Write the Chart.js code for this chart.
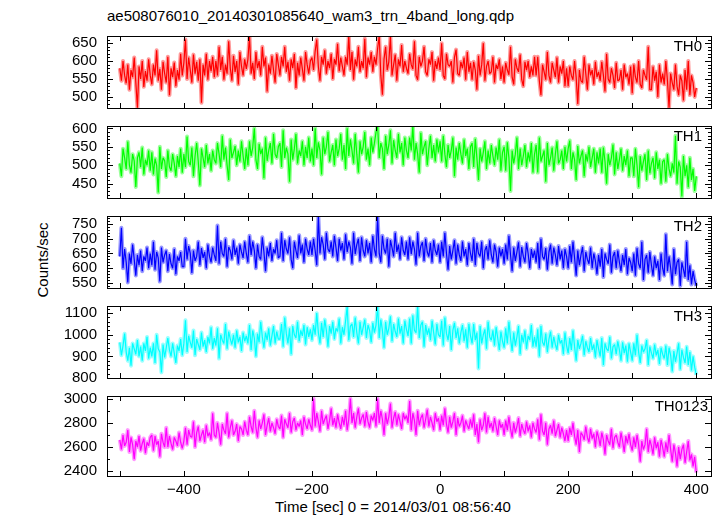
<!DOCTYPE html>
<html>
<head>
<meta charset="utf-8">
<script src="https://cdn.jsdelivr.net/npm/chart.js@4.4.1/dist/chart.umd.min.js"></script>
<style>
body { margin: 0; background: #fff; }
#wrap { position: relative; width: 723px; height: 516px; font-family: "Liberation Sans", Arial, sans-serif; color: #000; overflow: hidden; }
#wrap canvas { position: absolute; left: 0; }
.txt { position: absolute; font-size: 15px; line-height: 17px; white-space: nowrap; }
#ylab { left: 41.7px; top: 260px; transform: translate(-50%, -50%) rotate(-90deg); }
</style>
</head>
<body>
<div id="wrap">
  <div class="txt" style="left:107px; top:7px;">ae508076010_20140301085640_wam3_trn_4band_long.qdp</div>
  <div class="txt" id="ylab">Counts/sec</div>
  <div class="txt" style="left:275px; top:498px;">Time [sec] 0 = 2014/03/01 08:56:40</div>
  <canvas id="c0" width="723" height="110" style="top:17px"></canvas>
  <canvas id="c1" width="723" height="110" style="top:107px"></canvas>
  <canvas id="c2" width="723" height="110" style="top:197px"></canvas>
  <canvas id="c3" width="723" height="110" style="top:287px"></canvas>
  <canvas id="c4" width="723" height="139" style="top:377px"></canvas>
</div>
<script>
// time bins, 2.5 sec apart
var times = [];
for (var t = -500; t <= 400; t += 2.5) times.push(t);

var xTickLabels = [-400, -200, 0, 200, 400];

// count rates (one row = 50 sec)
var th0 = [
  580, 545, 600, 560, 538, 590, 520, 575, 555, 610, 540, 470, 585, 550, 600, 528, 572, 545, 605, 560,
  535, 590, 560, 630, 545, 578, 520, 598, 565, 540, 612, 505, 580, 555, 596, 530, 575, 548, 620, 560,
  595, 660, 550, 610, 575, 540, 618, 565, 598, 545, 605, 484, 590, 560, 620, 548, 600, 572, 612, 555,
  600, 560, 640, 575, 612, 548, 590, 565, 655, 580, 545, 615, 570, 600, 535, 625, 585, 560, 605, 578,
  605, 670, 565, 595, 550, 625, 580, 600, 560, 640, 585, 610, 515, 590, 565, 615, 575, 540, 620, 590,
  560, 612, 585, 640, 570, 598, 545, 605, 580, 620, 525, 595, 560, 610, 578, 545, 625, 590, 565, 600,
  610, 575, 628, 660, 585, 545, 612, 590, 630, 565, 600, 580, 620, 550, 605, 590, 648, 572, 610, 585,
  560, 612, 590, 670, 575, 625, 548, 605, 585, 640, 570, 600, 580, 662, 555, 610, 590, 625, 570, 612,
  590, 635, 670, 560, 506, 605, 640, 575, 598, 668, 560, 590, 618, 545, 605, 585, 645, 570, 600, 580,
  565, 620, 590, 578, 655, 560, 548, 612, 585, 600, 640, 570, 560, 605, 590, 625, 545, 600, 578, 610,
  575, 650, 560, 550, 620, 590, 585, 600, 540, 610, 632, 565, 560, 598, 580, 610, 548, 625, 570, 595,
  548, 598, 575, 520, 615, 560, 590, 650, 545, 585, 600, 565, 570, 612, 540, 590, 578, 605, 550, 585,
  540, 595, 575, 562, 640, 555, 535, 605, 580, 570, 618, 548, 530, 598, 575, 600, 555, 585, 560, 612,
  560, 612, 545, 505, 590, 570, 548, 625, 560, 540, 595, 575, 555, 610, 540, 585, 565, 600, 530, 580,
  530, 585, 560, 548, 600, 555, 480, 575, 545, 540, 612, 565, 520, 590, 560, 575, 535, 598, 555, 570,
  545, 598, 560, 515, 620, 550, 540, 580, 560, 525, 595, 545, 548, 575, 520, 590, 555, 565, 535, 585,
  510, 590, 555, 540, 600, 535, 525, 575, 560, 548, 640, 520, 520, 585, 545, 570, 500, 590, 540, 565,
  535, 600, 545, 470, 565, 540, 520, 590, 530, 505, 560, 545, 490, 575, 520, 600, 505, 560, 540, 500,
  525
];
var th1 = [
  505, 470, 545, 520, 490, 564, 500, 480, 530, 512, 441, 520, 535, 495, 548, 475, 515, 500, 540, 485,
  535, 475, 518, 500, 426, 550, 490, 520, 512, 468, 540, 495, 485, 530, 505, 470, 525, 495, 545, 480,
  530, 495, 578, 510, 500, 548, 470, 525, 560, 510, 445, 545, 520, 495, 555, 505, 530, 485, 540, 515,
  505, 560, 530, 495, 580, 515, 548, 500, 460, 570, 520, 535, 552, 500, 540, 510, 565, 525, 490, 545,
  500, 565, 525, 548, 600, 515, 490, 558, 530, 545, 465, 575, 512, 540, 560, 505, 585, 530, 520, 550,
  560, 495, 595, 520, 548, 530, 455, 570, 515, 545, 585, 505, 540, 525, 565, 500, 550, 520, 575, 510,
  545, 500, 600, 520, 562, 540, 475, 575, 530, 550, 590, 510, 535, 555, 500, 570, 525, 545, 585, 515,
  555, 490, 600, 525, 570, 540, 505, 585, 530, 480, 565, 530, 550, 590, 515, 545, 500, 575, 535, 560,
  590, 607, 520, 560, 545, 490, 580, 530, 555, 595, 505, 568, 540, 520, 585, 535, 560, 500, 575, 540,
  520, 575, 540, 607, 515, 560, 530, 480, 588, 530, 550, 565, 500, 545, 580, 520, 555, 510, 570, 535,
  565, 510, 580, 530, 495, 555, 520, 540, 575, 470, 548, 515, 560, 530, 505, 570, 525, 545, 490, 550,
  560, 495, 572, 520, 460, 545, 510, 535, 565, 490, 540, 505, 555, 525, 500, 548, 515, 570, 485, 535,
  550, 485, 562, 520, 430, 540, 505, 530, 575, 490, 545, 500, 525, 555, 495, 535, 510, 560, 480, 530,
  555, 480, 575, 510, 525, 540, 455, 560, 500, 520, 548, 485, 530, 565, 505, 515, 540, 490, 550, 510,
  545, 567, 490, 535, 515, 460, 552, 505, 525, 540, 470, 530, 510, 550, 495, 520, 545, 480, 535, 505,
  545, 480, 548, 510, 450, 530, 500, 520, 556, 475, 535, 490, 515, 545, 485, 525, 500, 540, 470, 520,
  520, 470, 545, 500, 440, 525, 485, 510, 530, 460, 540, 478, 505, 520, 465, 535, 490, 515, 450, 510,
  515, 455, 530, 490, 470, 505, 480, 580, 450, 510, 495, 415, 525, 470, 500, 440, 520, 460, 490, 430,
  470
];
var th2 = [
  640, 737, 600, 665, 620, 552, 650, 615, 680, 630, 575, 645, 610, 660, 590, 640, 625, 670, 600, 650,
  610, 690, 595, 655, 635, 555, 670, 620, 645, 660, 590, 648, 615, 600, 665, 580, 640, 625, 655, 605,
  605, 700, 630, 675, 650, 584, 660, 625, 640, 690, 610, 668, 635, 655, 600, 680, 640, 620, 670, 645,
  625, 745, 615, 690, 650, 640, 700, 605, 672, 660, 630, 695, 645, 670, 615, 680, 655, 635, 690, 650,
  620, 710, 645, 690, 660, 600, 680, 640, 630, 705, 655, 590, 670, 640, 685, 625, 665, 650, 695, 635,
  640, 720, 625, 695, 665, 650, 705, 630, 600, 690, 660, 635, 712, 650, 680, 620, 700, 665, 645, 690,
  645, 700, 660, 610, 775, 650, 705, 680, 630, 720, 665, 655, 690, 640, 710, 670, 625, 700, 660, 685,
  630, 715, 655, 690, 670, 615, 720, 648, 680, 700, 625, 705, 660, 640, 695, 650, 685, 620, 710, 665,
  640, 775, 650, 620, 710, 665, 650, 700, 605, 695, 670, 640, 720, 655, 680, 630, 705, 660, 645, 690,
  630, 705, 648, 690, 665, 612, 720, 640, 675, 688, 625, 700, 655, 640, 685, 620, 695, 660, 645, 680,
  620, 690, 640, 720, 650, 595, 675, 630, 660, 695, 615, 680, 645, 625, 690, 640, 665, 610, 685, 650,
  625, 700, 610, 685, 650, 640, 690, 600, 660, 675, 630, 695, 645, 620, 680, 655, 605, 670, 640, 665,
  615, 680, 630, 710, 645, 590, 670, 625, 655, 688, 605, 672, 640, 620, 685, 650, 600, 665, 635, 660,
  620, 685, 600, 700, 640, 630, 668, 595, 655, 680, 615, 670, 645, 610, 675, 630, 660, 600, 665, 640,
  600, 675, 620, 690, 635, 575, 660, 610, 645, 672, 590, 655, 630, 615, 670, 600, 650, 625, 580, 645,
  605, 665, 570, 650, 630, 615, 680, 585, 640, 655, 600, 660, 620, 590, 645, 610, 665, 580, 635, 620,
  590, 650, 575, 668, 615, 600, 690, 560, 630, 645, 585, 655, 610, 575, 640, 600, 625, 560, 650, 600,
  575, 715, 590, 640, 600, 545, 665, 580, 620, 630, 540, 620, 595, 570, 690, 560, 610, 545, 590, 560,
  540
];
var th3 = [
  965, 905, 950, 1005, 920, 880, 940, 857, 960, 935, 910, 975, 900, 945, 880, 960, 925, 990, 890, 940,
  900, 960, 870, 1000, 935, 920, 826, 955, 895, 940, 985, 930, 900, 960, 915, 870, 950, 925, 980, 905,
  960, 1067, 920, 995, 965, 940, 1020, 905, 980, 955, 930, 1010, 945, 975, 920, 990, 960, 1035, 935, 985,
  950, 1030, 890, 1000, 975, 960, 1050, 935, 1015, 980, 955, 1000, 940, 1020, 965, 990, 925, 1010, 970, 995,
  960, 1045, 930, 1020, 985, 900, 1005, 965, 1060, 990, 940, 1010, 975, 1030, 950, 995, 1040, 960, 1015, 980,
  980, 1050, 945, 1080, 1005, 960, 1030, 910, 1040, 1000, 985, 1060, 970, 1020, 995, 1045, 955, 1035, 990, 1025,
  975, 1045, 1000, 1100, 1010, 960, 1055, 990, 1070, 1020, 945, 1040, 1005, 1060, 980, 1030, 1015, 1075, 960, 1035,
  1000, 1065, 1130, 975, 1040, 1050, 990, 1080, 1010, 960, 1060, 1000, 1035, 1070, 985, 1045, 1020, 965, 1055, 1010,
  1045, 1133, 985, 1070, 1020, 940, 1060, 1000, 1030, 1085, 970, 1050, 1015, 990, 1075, 1005, 1040, 960, 1065, 1025,
  995, 1075, 960, 1090, 1020, 1010, 1133, 985, 1045, 1060, 945, 1045, 1000, 1030, 975, 1065, 1010, 955, 1050, 1000,
  990, 1065, 950, 1080, 1005, 975, 1040, 930, 1020, 1055, 985, 1030, 960, 1010, 1045, 970, 1025, 940, 1050, 995,
  960, 1050, 975, 1010, 844, 1040, 960, 1000, 1025, 935, 1060, 990, 975, 1020, 950, 1035, 985, 930, 1015, 970,
  940, 1030, 960, 1060, 985, 925, 1010, 950, 990, 1040, 910, 1000, 965, 1020, 935, 995, 975, 1045, 945, 990,
  945, 1025, 900, 1040, 965, 950, 1005, 920, 980, 1015, 940, 990, 955, 930, 1000, 960, 975, 910, 1010, 950,
  915, 985, 930, 1020, 945, 880, 975, 935, 960, 995, 905, 970, 940, 920, 985, 930, 955, 895, 975, 935,
  900, 985, 860, 960, 935, 925, 990, 890, 945, 955, 910, 970, 930, 880, 965, 915, 950, 875, 960, 920,
  880, 960, 905, 1000, 920, 870, 950, 920, 935, 975, 860, 945, 915, 890, 955, 905, 930, 865, 940, 910,
  890, 950, 860, 940, 905, 830, 925, 875, 915, 960, 840, 930, 895, 870, 945, 860, 920, 835, 900, 850,
  815
];
var th0123 = [
  2660, 2580, 2700, 2610, 2640, 2740, 2560, 2680, 2620, 2500, 2650, 2600, 2690, 2570, 2630, 2670, 2550, 2640, 2610, 2680,
  2700, 2570, 2690, 2620, 2650, 2520, 2710, 2640, 2600, 2760, 2600, 2690, 2630, 2580, 2680, 2650, 2610, 2720, 2640, 2590,
  2650, 2760, 2620, 2740, 2690, 2680, 2810, 2600, 2720, 2770, 2650, 2700, 2740, 2640, 2780, 2690, 2720, 2660, 2880, 2700,
  2680, 2800, 2720, 2620, 2790, 2740, 2710, 2880, 2680, 2760, 2820, 2700, 2730, 2790, 2650, 2770, 2750, 2700, 2810, 2740,
  2700, 2850, 2770, 2720, 2900, 2760, 2680, 2820, 2750, 2800, 2870, 2700, 2780, 2840, 2730, 2800, 2760, 2710, 2830, 2770,
  2750, 2860, 2680, 2830, 2790, 2760, 2880, 2720, 2810, 2840, 2740, 2800, 2770, 2820, 2700, 2850, 2790, 2750, 2830, 2780,
  2740, 3000, 2770, 2880, 2810, 2730, 2900, 2790, 2830, 2860, 2750, 2820, 2920, 2780, 2840, 2760, 2870, 2800, 2750, 2850,
  2780, 2900, 2740, 2830, 3000, 2800, 2880, 2760, 2850, 2920, 2790, 2840, 2870, 2770, 2890, 2810, 2760, 2860, 2820, 2880,
  2770, 3000, 2800, 2900, 2830, 2700, 2880, 2790, 2850, 2960, 2760, 2840, 2890, 2780, 2870, 2810, 2750, 2880, 2830, 2860,
  2800, 2980, 2740, 2880, 2820, 2700, 2900, 2780, 2840, 2870, 2760, 2830, 2910, 2770, 2850, 2800, 2740, 2880, 2810, 2840,
  2740, 2860, 2780, 2920, 2790, 2720, 2850, 2760, 2810, 2880, 2700, 2840, 2770, 2800, 2860, 2730, 2820, 2780, 2750, 2830,
  2760, 2870, 2700, 2790, 2640, 2830, 2740, 2780, 2880, 2720, 2850, 2760, 2800, 2730, 2840, 2770, 2700, 2820, 2760, 2790,
  2700, 2820, 2740, 2850, 2750, 2680, 2800, 2720, 2770, 2840, 2690, 2790, 2740, 2710, 2810, 2730, 2780, 2680, 2800, 2750,
  2720, 2830, 2660, 2870, 2730, 2700, 2800, 2620, 2750, 2780, 2710, 2820, 2690, 2740, 2790, 2680, 2760, 2710, 2650, 2740,
  2650, 2760, 2700, 2800, 2690, 2620, 2740, 2560, 2720, 2700, 2660, 2770, 2680, 2640, 2750, 2670, 2710, 2600, 2730, 2680,
  2610, 2720, 2660, 2540, 2700, 2650, 2620, 2750, 2590, 2680, 2700, 2640, 2600, 2720, 2650, 2560, 2690, 2630, 2710, 2620,
  2570, 2680, 2600, 2700, 2620, 2480, 2650, 2580, 2620, 2750, 2560, 2660, 2610, 2540, 2680, 2590, 2640, 2520, 2660, 2600,
  2520, 2640, 2560, 2700, 2580, 2480, 2620, 2550, 2440, 2600, 2500, 2580, 2620, 2470, 2560, 2650, 2490, 2540, 2440, 2520,
  2390
];

var panels = [
  {id: 'c0', data: th0, rgb: '255,0,0', min: 469, max: 670, ticks: [500, 550, 600, 650], minor: 10, label: 'TH0', labelX: 702},
  {id: 'c1', data: th1, rgb: '0,255,0', min: 411, max: 606.5, ticks: [450, 500, 550, 600], minor: 10, label: 'TH1', labelX: 702},
  {id: 'c2', data: th2, rgb: '0,0,255', min: 533, max: 777, ticks: [550, 600, 650, 700, 750], minor: 10, label: 'TH2', labelX: 702},
  {id: 'c3', data: th3, rgb: '0,255,255', min: 800, max: 1133, ticks: [800, 900, 1000, 1100], minor: 20, label: 'TH3', labelX: 702},
  {id: 'c4', data: th0123, rgb: '255,0,255', min: 2361, max: 3022, ticks: [2400, 2600, 2800, 3000], minor: 100, label: 'TH0123', labelX: 708}
];

function fmt(v) {
    return v < 0 ? '\u2212' + Math.abs(v) : String(v);
}

// box, inward tick marks and the band label of each panel
var framePlugin = {
    id: 'frame',
    afterDraw: function(chart, args, opts) {
        var ctx = chart.ctx, a = chart.chartArea;
        var xs = chart.scales.x, ys = chart.scales.y;
        ctx.save();
        ctx.strokeStyle = '#000';
        ctx.lineWidth = 1;
        ctx.strokeRect(a.left + 0.5, a.top + 0.5, a.right - a.left, a.bottom - a.top);
        ctx.beginPath();
        for (var v = -500; v <= 400; v += 100) {
            var px = Math.round(xs.getPixelForValue(v)) + 0.5;
            ctx.moveTo(px, a.top); ctx.lineTo(px, a.top + 5);
            ctx.moveTo(px, a.bottom); ctx.lineTo(px, a.bottom - 5);
        }
        var start = Math.ceil(opts.min / opts.minor) * opts.minor;
        for (var m = start; m <= opts.max; m += opts.minor) {
            var py = Math.round(ys.getPixelForValue(m)) + 0.5;
            var len = opts.ticks.indexOf(m) >= 0 ? 6 : 3;
            ctx.moveTo(a.left, py); ctx.lineTo(a.left + len, py);
            ctx.moveTo(a.right, py); ctx.lineTo(a.right - len, py);
        }
        ctx.stroke();
        ctx.fillStyle = '#000';
        ctx.font = '15px "Liberation Sans", Arial, sans-serif';
        ctx.textAlign = 'right';
        ctx.textBaseline = 'middle';
        ctx.fillText(opts.label, opts.labelX, a.top + 11);
        ctx.restore();
    }
};

panels.forEach(function(p, i) {
    var last = i === panels.length - 1;
    var ctx = document.getElementById(p.id).getContext('2d');
    new Chart(ctx, {
        type: 'line',
        data: {
            labels: times,
            datasets: [{
                data: p.data,
                borderColor: 'rgb(' + p.rgb + ')',
                borderWidth: 1.2,
                borderJoinStyle: 'bevel',
                pointRadius: 0,
                tension: 0,
                fill: false
            }, {
                data: p.data,
                borderColor: 'rgba(' + p.rgb + ',0.4)',
                borderWidth: 4,
                borderJoinStyle: 'round',
                pointRadius: 0,
                tension: 0,
                fill: false
            }]
        },
        options: {
            responsive: false,
            animation: false,
            devicePixelRatio: 1,
            layout: {padding: {top: 10, bottom: last ? 0 : 10, left: 0, right: 12}},
            scales: {
                x: {
                    type: 'linear',
                    min: -520,
                    max: 423,
                    bounds: 'data',
                    display: last,
                    grid: {display: false, drawTicks: false},
                    border: {display: false},
                    afterBuildTicks: function(s) { s.ticks = xTickLabels.map(function(v) { return {value: v}; }); },
                    afterFit: function(s) { if (last) s.height = 40; },
                    ticks: {
                        padding: 5,
                        color: '#000',
                        maxRotation: 0,
                        autoSkip: false,
                        font: {family: '"Liberation Sans", Arial, sans-serif', size: 15},
                        callback: function(v) { return fmt(v); }
                    }
                },
                y: {
                    min: p.min,
                    max: p.max,
                    bounds: 'data',
                    grid: {display: false, drawTicks: false},
                    border: {display: false},
                    afterBuildTicks: function(s) { s.ticks = p.ticks.map(function(v) { return {value: v}; }); },
                    afterFit: function(s) { s.width = 107; },
                    ticks: {
                        padding: 10,
                        color: '#000',
                        autoSkip: false,
                        font: {family: '"Liberation Sans", Arial, sans-serif', size: 15},
                        callback: function(v) { return fmt(v); }
                    }
                }
            },
            plugins: {
                legend: {display: false},
                tooltip: {enabled: false},
                frame: {min: p.min, max: p.max, ticks: p.ticks, minor: p.minor, label: p.label, labelX: p.labelX}
            }
        },
        plugins: [framePlugin]
    });
});
</script>
</body>
</html>
